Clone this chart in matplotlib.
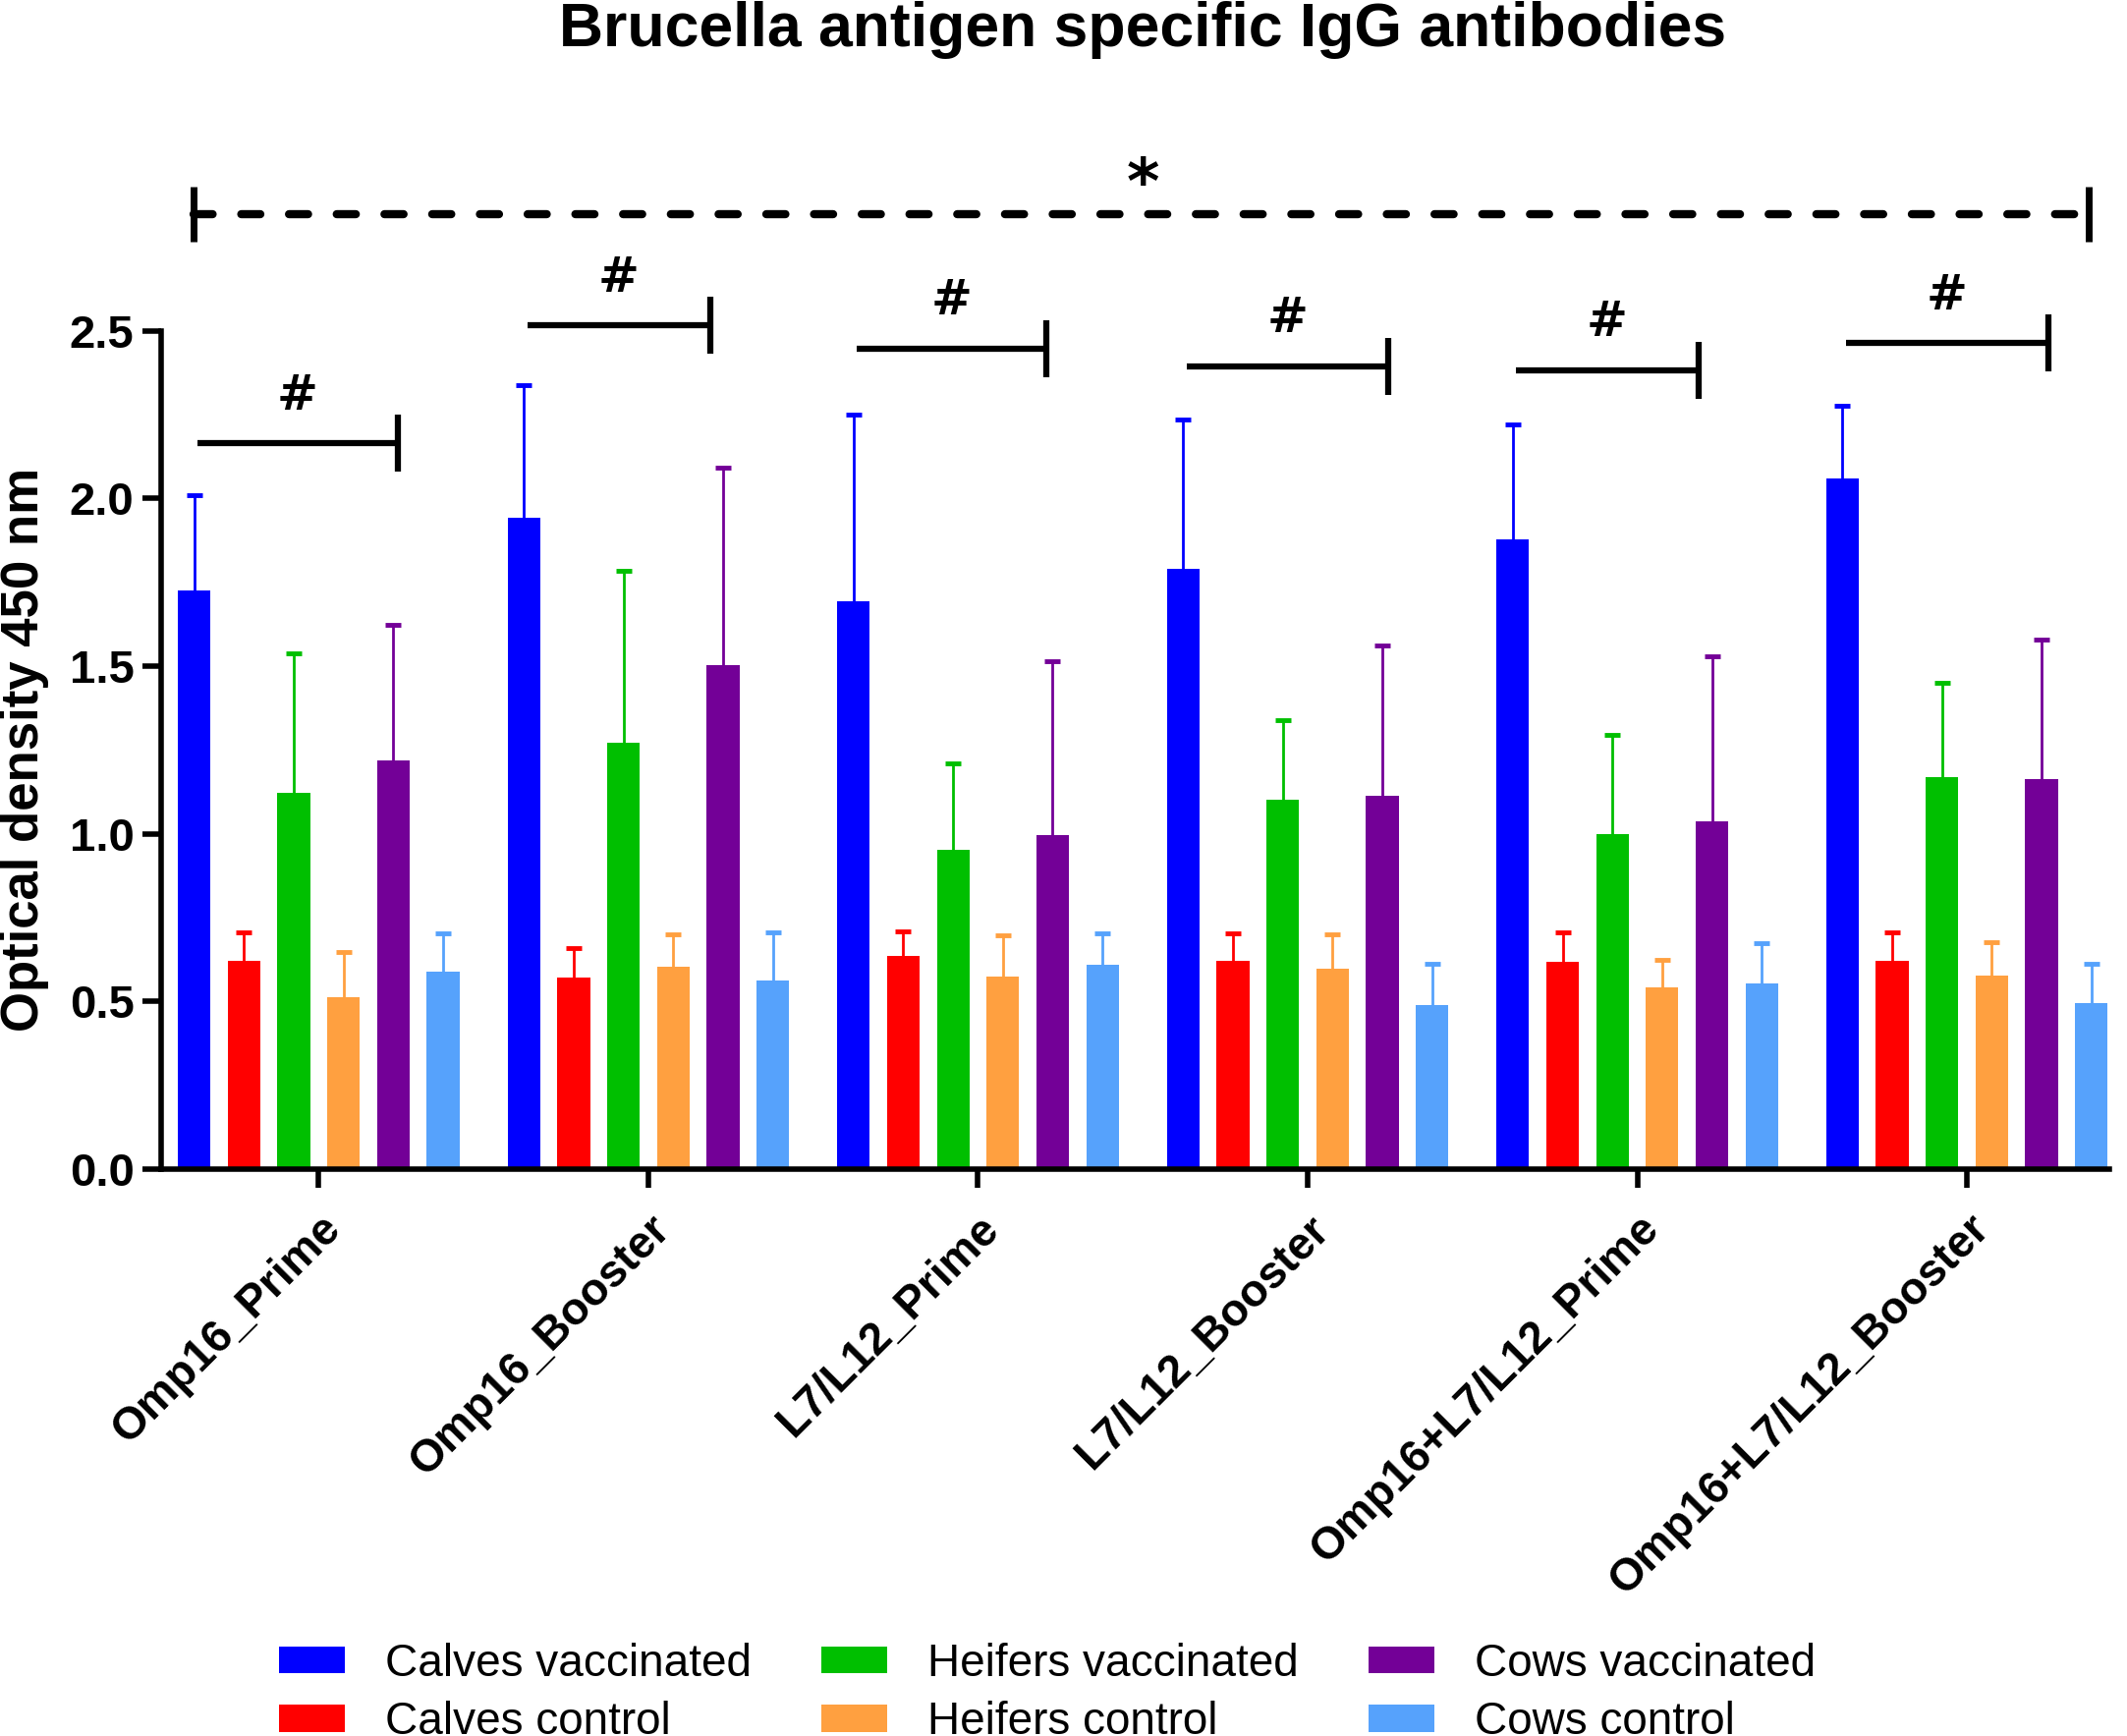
import numpy as np
import matplotlib
matplotlib.use("Agg")
import matplotlib.pyplot as plt
from matplotlib.patches import Patch

plt.rcParams['font.family'] = ['Liberation Sans', 'DejaVu Sans']

groups = ["Omp16_Prime", "Omp16_Booster", "L7/L12_Prime", "L7/L12_Booster",
          "Omp16+L7/L12_Prime", "Omp16+L7/L12_Booster"]

series = ["Calves vaccinated", "Calves control", "Heifers vaccinated",
          "Heifers control", "Cows vaccinated", "Cows control"]
colors = ["#0000FF", "#FF0000", "#00BF00", "#FFA040", "#730097", "#56A2FC"]

# mean OD values
calves_vacc = [1.726, 1.943, 1.695, 1.791, 1.878, 2.060]
calves_ctrl = [0.622, 0.571, 0.635, 0.621, 0.618, 0.621]
heifers_vacc = [1.122, 1.271, 0.953, 1.101, 0.998, 1.170]
heifers_ctrl = [0.514, 0.604, 0.575, 0.598, 0.541, 0.576]
cows_vacc = [1.220, 1.503, 0.997, 1.113, 1.036, 1.164]
cows_ctrl = [0.590, 0.563, 0.609, 0.489, 0.553, 0.495]

# upper SD
calves_vacc_sd = [0.284, 0.395, 0.554, 0.444, 0.342, 0.218]
calves_ctrl_sd = [0.084, 0.087, 0.075, 0.083, 0.087, 0.084]
heifers_vacc_sd = [0.416, 0.512, 0.257, 0.237, 0.296, 0.280]
heifers_ctrl_sd = [0.134, 0.095, 0.122, 0.101, 0.083, 0.102]
cows_vacc_sd = [0.404, 0.589, 0.517, 0.449, 0.492, 0.414]
cows_ctrl_sd = [0.112, 0.143, 0.093, 0.123, 0.122, 0.117]

means = [calves_vacc, calves_ctrl, heifers_vacc, heifers_ctrl, cows_vacc, cows_ctrl]
sds = [calves_vacc_sd, calves_ctrl_sd, heifers_vacc_sd, heifers_ctrl_sd, cows_vacc_sd, cows_ctrl_sd]

# significance marks (# brackets per group, * over everything)
hash_levels = [2.164, 2.516, 2.447, 2.395, 2.383, 2.464]
hash_ends = [0.239, 0.189, 0.206, 0.243, 0.185, 0.247]
star_level = 2.848

fig = plt.figure(figsize=(21.65, 17.67), dpi=100)
ax = fig.add_axes([0.0759, 0.3266, 0.9158, 0.589])

x = np.arange(len(groups))
step = 0.151
width = 0.099
for i in range(len(series)):
    xs = x + (i - 2.5) * step
    m = np.array(means[i])
    top = m + np.array(sds[i])
    ax.bar(xs, m, width, color=colors[i], label=series[i], zorder=2)
    ax.vlines(xs, m, top, color=colors[i], lw=2, zorder=1)
    ax.plot(xs, top, linestyle='none', marker='_', markersize=12,
            markeredgewidth=3.5, color=colors[i], zorder=1)

for g, lev in enumerate(hash_levels):
    x0 = g - 2.5 * step + 0.01
    x1 = g + hash_ends[g]
    ax.plot([x0, x1], [lev, lev], color='black', lw=4.5, solid_capstyle='butt', clip_on=False)
    ax.plot([x1, x1], [lev - 0.085, lev + 0.085], color='black', lw=4.5,
            solid_capstyle='butt', clip_on=False)
    ax.text((x0 + x1) / 2, lev + 0.142, "#", ha='center', va='center',
            fontsize=36, fontweight='bold', family='DejaVu Sans')

xa = -0.379
xb = 5.370
ax.plot([xa, xb], [star_level, star_level], color='black', lw=6,
        dashes=(2.33, 3.5), dash_capstyle='round', clip_on=False)
for xe in (xa, xb):
    ax.plot([xe, xe], [star_level - 0.083, star_level + 0.083], color='black', lw=5,
            solid_capstyle='butt', clip_on=False)
ax.text(2.5, star_level + 0.085, "*", ha='center', va='center', fontsize=46,
        fontweight='bold', family='DejaVu Sans')

ax.set_xlim(-0.477, 5.432)
ax.set_ylim(0, 3.05)
ax.spines['top'].set_visible(False)
ax.spines['right'].set_visible(False)
ax.spines['left'].set_linewidth(4)
ax.spines['bottom'].set_linewidth(4)
ax.spines['left'].set_bounds(0, 2.5)

ax.set_yticks([0, 0.5, 1.0, 1.5, 2.0, 2.5])
ax.set_yticklabels(["0.0", "0.5", "1.0", "1.5", "2.0", "2.5"], fontsize=34, fontweight='bold')
ax.set_xticks(x)
ax.set_xticklabels(groups, rotation=45, ha='right', va='top', rotation_mode='anchor',
                   fontsize=33, fontweight='bold')
ax.tick_params(axis='both', width=4, length=14, direction='out')
ax.tick_params(axis='y', pad=6)
ax.tick_params(axis='x', pad=14)

ax.set_ylabel("Optical density 450 nm", fontsize=38, fontweight='bold')
ax.yaxis.set_label_coords(-0.0575, 1.25 / 3.05)

fig.text(0.537, 0.983, "Brucella antigen specific IgG antibodies", ha='center', va='center',
         fontsize=45, fontweight='bold')

handles = [Patch(facecolor=c) for c in colors]
fig.legend(handles, series, ncol=3, loc='upper left', bbox_to_anchor=(0.131, 0.054),
           frameon=False, fontsize=33, handlelength=1.46, handleheight=0.55,
           handletextpad=0.9, columnspacing=1.55, labelspacing=0.34,
           borderpad=0, borderaxespad=0)

fig.savefig("out.png", dpi=100)
